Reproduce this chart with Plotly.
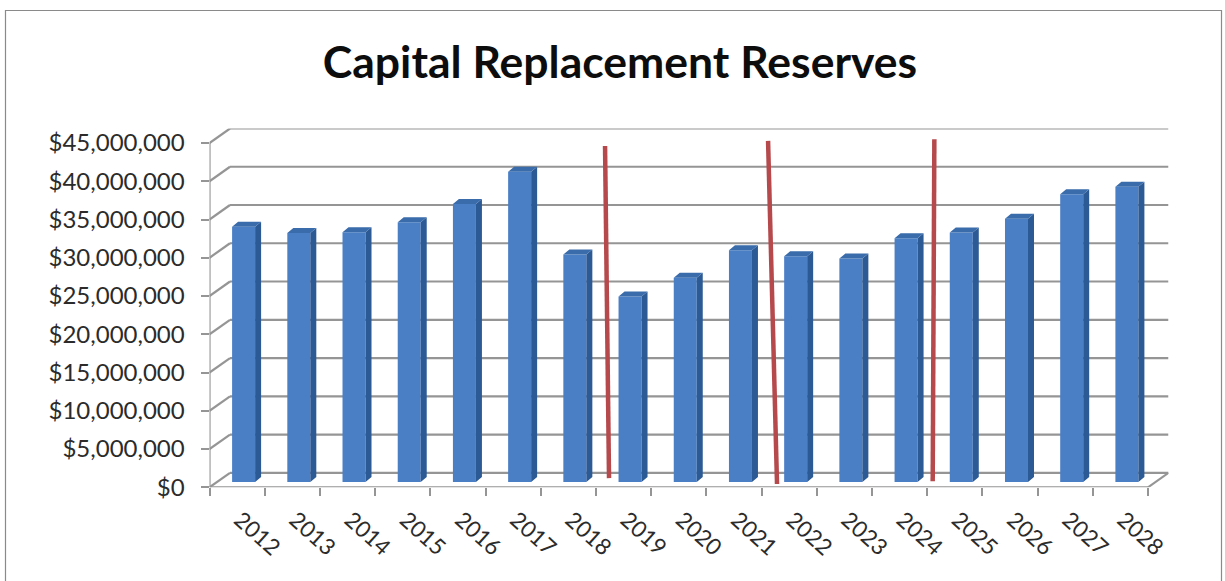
import plotly.graph_objects as go

title = "Capital Replacement Reserves"
years = [2012, 2013, 2014, 2015, 2016, 2017, 2018, 2019, 2020, 2021, 2022, 2023, 2024, 2025, 2026, 2027, 2028]
reserves = [33.35e6, 32.55e6, 32.65e6, 33.95e6, 36.35e6, 40.55e6, 29.75e6, 24.25e6, 26.7e6, 30.3e6,
            29.5e6, 29.2e6, 31.85e6, 32.6e6, 34.4e6, 37.6e6, 38.6e6]
y_ticks = [0, 5e6, 10e6, 15e6, 20e6, 25e6, 30e6, 35e6, 40e6, 45e6]
y_labels = ["$0", "$5,000,000", "$10,000,000", "$15,000,000", "$20,000,000", "$25,000,000",
            "$30,000,000", "$35,000,000", "$40,000,000", "$45,000,000"]
# hand-drawn red marker lines, (category position, value) at each end
marker_x = [[6.665, 6.737], [9.618, 9.78], [12.63, 12.6]]
marker_y = [[44.6e6, 1.2e6], [45.27e6, 0.43e6], [45.5e6, 0.8e6]]

W, H = 1225, 581
# pixel frame of the front plane of the pseudo-3D chart
X0, X1, Y0, Y45 = 209.5, 1148.0, 487.3, 143.0
px_per_cat = (X1 - X0) / len(years)
px_per_val = (Y0 - Y45) / 45e6
wall_dx, wall_dy = 20.5 / px_per_cat, 14.5 / px_per_val
bar_dx, bar_dy = 6.5 / px_per_cat, 5.3 / px_per_val
side_dx, side_dy = 6.0 / px_per_cat, 5.0 / px_per_val
bar_w = 23.0 / px_per_cat

left, right = -0.5, len(years) - 0.5
x_range = [left, right + wall_dx]
y_range = [0, 45e6 + wall_dy]
x_dom = [X0 / W, (X1 + wall_dx * px_per_cat) / W]
y_dom = [1 - Y0 / H, 1 - (Y45 - wall_dy * px_per_val) / H]
pos = list(range(len(years)))

GRID = "#959595"
grid_style = dict(color=GRID, width=2.2)
shapes = [dict(type="rect", xref="paper", yref="paper", x0=5.5 / W, x1=1221.5 / W, y0=-0.05, y1=1 - 10.5 / H,
               line=dict(color="#8a8a8a", width=1.2), fillcolor="rgba(0,0,0,0)", layer="below")]


def seg(xa, ya, xb, yb):
    shapes.append(dict(type="line", xref="x", yref="y", x0=xa, y0=ya, x1=xb, y1=yb, line=grid_style, layer="below"))


for v in y_ticks:
    seg(left, v, left + wall_dx, v + wall_dy)
    seg(left + wall_dx, v + wall_dy, right + wall_dx, v + wall_dy)
seg(left, 0, left, 45e6)
seg(left, 0, right, 0)
seg(right, 0, right + wall_dx, wall_dy)

fig = go.Figure()
fig.add_trace(go.Bar(x=[p + bar_dx for p in pos], y=reserves, base=bar_dy, width=bar_w,
                     marker=dict(color="#4a7fc6", line=dict(width=0)), showlegend=False, hoverinfo="skip"))

side_x, side_y, top_x, top_y = [], [], [], []
for p, v in zip(pos, reserves):
    xl, xr = p + bar_dx - bar_w / 2, p + bar_dx + bar_w / 2
    b, t = bar_dy, bar_dy + v
    side_x += [xr, xr + side_dx, xr + side_dx, xr, None]
    side_y += [b, b + side_dy, t + side_dy, t, None]
    top_x += [xl, xl + side_dx, xr + side_dx, xr, None]
    top_y += [t, t + side_dy, t + side_dy, t, None]
for fx, fy, col in [(side_x, side_y, "#2c5a94"), (top_x, top_y, "#3a6cab")]:
    fig.add_trace(go.Scatter(x=fx, y=fy, mode="lines", fill="toself", fillcolor=col, line=dict(width=0),
                             showlegend=False, hoverinfo="skip"))

for mx, my in zip(marker_x, marker_y):
    fig.add_trace(go.Scatter(x=mx, y=my, mode="lines", line=dict(color="#b5494c", width=4.5),
                             showlegend=False, hoverinfo="skip"))

# invisible carrier so the second x axis (category boundary ticks) is drawn
fig.add_trace(go.Scatter(x=[left], y=[0], xaxis="x2", mode="lines", line=dict(width=0),
                         showlegend=False, hoverinfo="skip"))

fig.update_layout(
    width=W, height=H, autosize=False,
    margin=dict(l=0, r=0, t=0, b=0),
    paper_bgcolor="white", plot_bgcolor="rgba(0,0,0,0)",
    shapes=shapes,
    font=dict(family="Lato", color="#2b2b2b"),
    title=dict(text="<b>" + title + "</b>", x=620 / W, xanchor="center", y=1 - 62 / H, yanchor="middle",
               font=dict(family="Lato", size=44.5, color="#0d0d0d")),
    xaxis=dict(domain=x_dom, range=x_range, tickmode="array", tickvals=pos, ticktext=[str(y) for y in years],
               tickangle=42, ticks="", showgrid=False, zeroline=False, showline=False, automargin=False,
               tickfont=dict(size=22.5, color="#2b2b2b"), ticklabelstandoff=14, ticklabelshift=3, anchor="y"),
    xaxis2=dict(domain=x_dom, range=x_range, overlaying="x", anchor="y", side="bottom",
                tickmode="array", tickvals=[left + i for i in range(len(years) + 1)], automargin=False,
                ticks="outside", ticklen=8, tickwidth=2, tickcolor=GRID, showticklabels=False,
                showgrid=False, zeroline=False, showline=False),
    yaxis=dict(domain=y_dom, range=y_range, tickmode="array", tickvals=y_ticks, ticktext=y_labels,
               ticks="outside", ticklen=8, tickwidth=2, tickcolor=GRID, showgrid=False, zeroline=False,
               showline=False, automargin=False, tickfont=dict(size=24, color="#2b2b2b"), ticklabelstandoff=11),
)
fig.write_html("out.html", config=dict(displayModeBar=False),
               post_script="document.body.style.margin='0';document.body.style.overflow='hidden';")
